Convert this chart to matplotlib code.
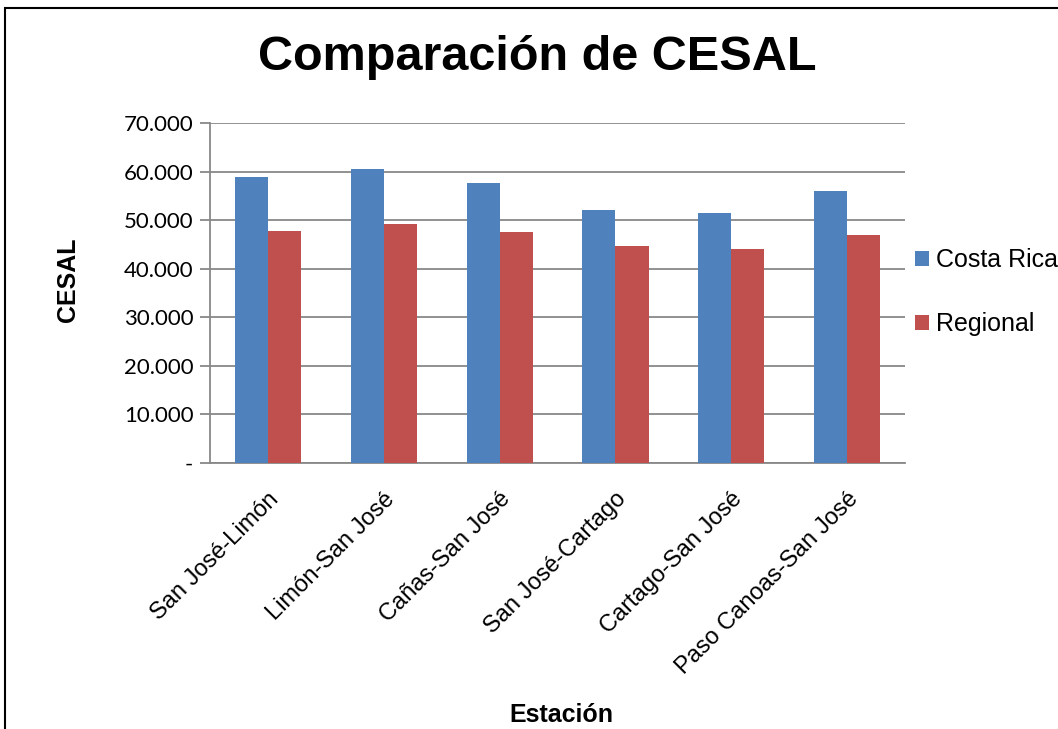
import matplotlib
matplotlib.use("Agg")
import matplotlib.pyplot as plt
import matplotlib.patches as patches
import numpy as np

plt.rcParams['font.family'] = ['Liberation Sans', 'DejaVu Sans']

estaciones = ["San José-Limón", "Limón-San José", "Cañas-San José",
              "San José-Cartago", "Cartago-San José", "Paso Canoas-San José"]
costa_rica = [58900, 60500, 57600, 52000, 51500, 56000]
regional = [47800, 49200, 47600, 44700, 44100, 46900]
y_ticks = [0, 10000, 20000, 30000, 40000, 50000, 60000, 70000]

def fmt(v):
    if v == 0:
        return "-"
    return f"{v:,.0f}".replace(",", ".")

fig = plt.figure(figsize=(10.58, 7.29), dpi=100)
ax = fig.add_axes([0.1985, 0.3649, 0.6569, 0.4664])

x = np.arange(len(estaciones))
w = 1 / 3.5
ax.bar(x - w / 2, costa_rica, w, color="#4F81BD", label="Costa Rica", zorder=3)
ax.bar(x + w / 2, regional, w, color="#C0504D", label="Regional", zorder=3)

ax.set_xlim(-0.5, len(estaciones) - 0.5)
ax.set_ylim(0, 70000)
ax.set_yticks(y_ticks)
ax.set_yticklabels([fmt(v) for v in y_ticks], fontsize=16, family=['Lato', 'DejaVu Sans'])
ax.yaxis.grid(True, color="#888888", linewidth=1.3, zorder=0)
ax.tick_params(axis='y', length=7, color="#888888", width=1.3, pad=5)
ax.tick_params(axis='x', length=0, pad=18)
ax.set_xticks(x)
ax.set_xticklabels(estaciones, rotation=45, ha='right', va='top',
                   rotation_mode='anchor', fontsize=17)

for side in ['top', 'right']:
    ax.spines[side].set_visible(False)
for side in ['left', 'bottom']:
    ax.spines[side].set_color("#888888")
    ax.spines[side].set_linewidth(1.3)

ax.set_ylabel("CESAL", fontsize=18, fontweight='bold', va='center')
ax.yaxis.set_label_coords(-0.205, 0.538)
ax.set_xlabel("Estación", fontsize=18, fontweight='bold', va='center')
ax.xaxis.set_label_coords(0.505, -0.74)

fig.text(537 / 1058, 1 - 58 / 729, "Comparación de CESAL", fontsize=35,
         fontweight='bold', ha='center', va='center')

fig.legend(loc='center left', bbox_to_anchor=(905 / 1058, 1 - 292 / 729),
           fontsize=18, frameon=False, handlelength=0.55, handleheight=0.55,
           handletextpad=0.3, labelspacing=1.6, borderaxespad=0)

# outer chart frame (cropped at right and bottom)
fig.patches.append(patches.Rectangle((5 / 1058, -0.1), 1.2, 1 - 8 / 729 + 0.1,
                                     transform=fig.transFigure, fill=False,
                                     edgecolor='black', linewidth=1.5))

fig.savefig("out.png", dpi=100)
